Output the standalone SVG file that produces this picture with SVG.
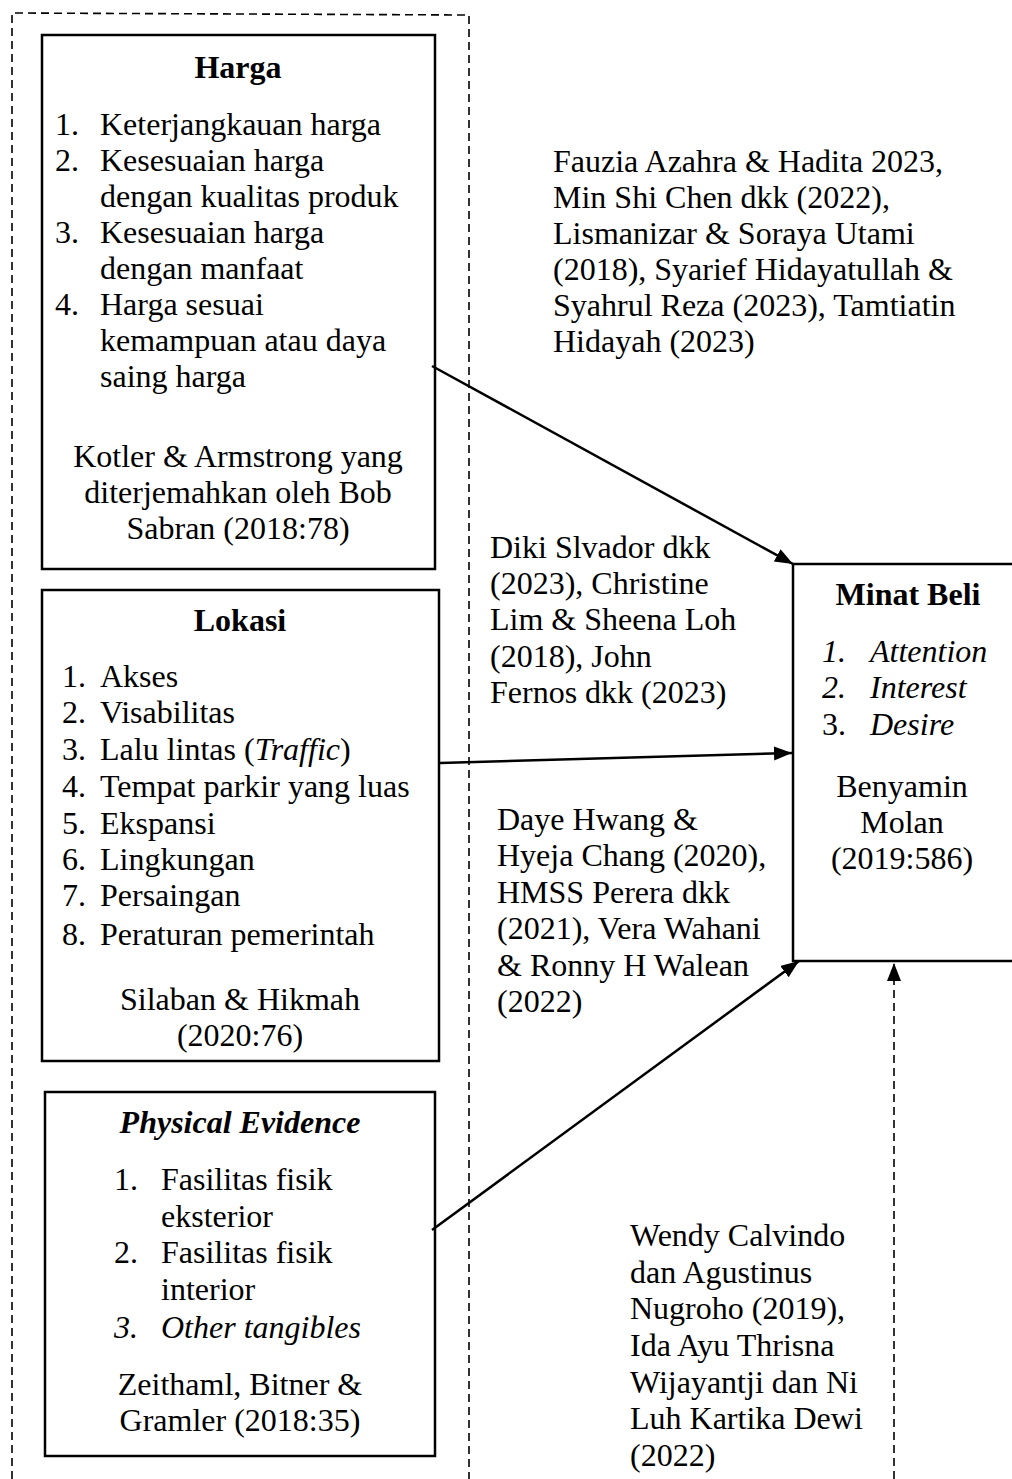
<svg xmlns="http://www.w3.org/2000/svg" width="1012" height="1479" viewBox="0 0 1012 1479">
<style>
text{font-family:"Liberation Serif","Times New Roman",serif;font-size:32px;fill:#000}
.b{font-weight:bold}
.i{font-style:italic}
.c{text-anchor:middle}
.box{fill:#fff;stroke:#000;stroke-width:2.5}
.conn{stroke:#000;stroke-width:2.5;fill:none}
.dash{stroke:#000;stroke-width:1.6;fill:none;stroke-dasharray:8 5}
</style>
<defs>
<marker id="ah" markerUnits="userSpaceOnUse" markerWidth="20" markerHeight="16" refX="18" refY="7" orient="auto">
<path d="M0,0 L18,7 L0,14 Z" fill="#000"/>
</marker>
</defs>
<g id="frame">
<path class="dash" d="M12,1479 L12,13 L469,15 L469,1479"/>
</g>
<g id="harga">
<rect class="box" x="42" y="35" width="393" height="534"/>
<text class="b c" x="238" y="78">Harga</text>
<text x="55" y="135">1.</text><text x="100" y="135">Keterjangkauan harga</text>
<text x="55" y="171">2.</text><text x="100" y="171">Kesesuaian harga</text>
<text x="100" y="207">dengan kualitas produk</text>
<text x="55" y="243">3.</text><text x="100" y="243">Kesesuaian harga</text>
<text x="100" y="279">dengan manfaat</text>
<text x="55" y="315">4.</text><text x="100" y="315">Harga sesuai</text>
<text x="100" y="351">kemampuan atau daya</text>
<text x="100" y="387">saing harga</text>
<text class="c" x="238" y="467">Kotler &amp; Armstrong yang</text>
<text class="c" x="238" y="503">diterjemahkan oleh Bob</text>
<text class="c" x="238" y="539">Sabran (2018:78)</text>
</g>
<g id="lokasi">
<rect class="box" x="42" y="590" width="397" height="471"/>
<text class="b c" x="240" y="631">Lokasi</text>
<text x="62" y="687">1.</text><text x="100" y="687">Akses</text>
<text x="62" y="723">2.</text><text x="100" y="723">Visabilitas</text>
<text x="62" y="760">3.</text><text x="100" y="760">Lalu lintas (<tspan class="i">Traffic</tspan>)</text>
<text x="62" y="797">4.</text><text x="100" y="797">Tempat parkir yang luas</text>
<text x="62" y="834">5.</text><text x="100" y="834">Ekspansi</text>
<text x="62" y="870">6.</text><text x="100" y="870">Lingkungan</text>
<text x="62" y="906">7.</text><text x="100" y="906">Persaingan</text>
<text x="62" y="945">8.</text><text x="100" y="945">Peraturan pemerintah</text>
<text class="c" x="240" y="1010">Silaban &amp; Hikmah</text>
<text class="c" x="240" y="1046">(2020:76)</text>
</g>
<g id="physical">
<rect class="box" x="45" y="1092" width="390" height="364"/>
<text class="b i c" x="240" y="1133">Physical Evidence</text>
<text x="114" y="1190">1.</text><text x="161" y="1190">Fasilitas fisik</text>
<text x="161" y="1227">eksterior</text>
<text x="114" y="1263">2.</text><text x="161" y="1263">Fasilitas fisik</text>
<text x="161" y="1300">interior</text>
<text class="i" x="114" y="1338">3.</text><text class="i" x="161" y="1338">Other tangibles</text>
<text class="c" x="240" y="1395">Zeithaml, Bitner &amp;</text>
<text class="c" x="240" y="1431">Gramler (2018:35)</text>
</g>
<g id="minat">
<rect class="box" x="793" y="564" width="240" height="397"/>
<text class="b c" x="908" y="605">Minat Beli</text>
<text class="i" x="822" y="662">1.</text><text class="i" x="870" y="662">Attention</text>
<text class="i" x="822" y="698">2.</text><text class="i" x="870" y="698">Interest</text>
<text x="822" y="735">3.</text><text class="i" x="870" y="735">Desire</text>
<text class="c" x="902" y="797">Benyamin</text>
<text class="c" x="902" y="833">Molan</text>
<text class="c" x="902" y="869">(2019:586)</text>
</g>
<g id="cite1">
<text x="553" y="172">Fauzia Azahra &amp; Hadita 2023,</text>
<text x="553" y="208">Min Shi Chen dkk (2022),</text>
<text x="553" y="244">Lismanizar &amp; Soraya Utami</text>
<text x="553" y="280">(2018), Syarief Hidayatullah &amp;</text>
<text x="553" y="316">Syahrul Reza (2023), Tamtiatin</text>
<text x="553" y="352">Hidayah (2023)</text>
</g>
<g id="cite2">
<text x="490" y="558">Diki Slvador dkk</text>
<text x="490" y="594">(2023), Christine</text>
<text x="490" y="630">Lim &amp; Sheena Loh</text>
<text x="490" y="667">(2018), John</text>
<text x="490" y="703">Fernos dkk (2023)</text>
</g>
<g id="cite3">
<text x="497" y="830">Daye Hwang &amp;</text>
<text x="497" y="866">Hyeja Chang (2020),</text>
<text x="497" y="903">HMSS Perera dkk</text>
<text x="497" y="939">(2021), Vera Wahani</text>
<text x="497" y="976">&amp; Ronny H Walean</text>
<text x="497" y="1012">(2022)</text>
</g>
<g id="cite4">
<text x="630" y="1246">Wendy Calvindo</text>
<text x="630" y="1283">dan Agustinus</text>
<text x="630" y="1319">Nugroho (2019),</text>
<text x="630" y="1356">Ida Ayu Thrisna</text>
<text x="630" y="1393">Wijayantji dan Ni</text>
<text x="630" y="1429">Luh Kartika Dewi</text>
<text x="630" y="1466">(2022)</text>
</g>
<g id="connectors">
<line class="conn" x1="432" y1="366" x2="793" y2="564" marker-end="url(#ah)"/>
<line class="conn" x1="440" y1="763" x2="792" y2="753" marker-end="url(#ah)"/>
<line class="conn" x1="432" y1="1230" x2="799" y2="961" marker-end="url(#ah)"/>
<line class="dash" x1="894" y1="1479" x2="894" y2="963" marker-end="url(#ah)"/>
</g>
</svg>
